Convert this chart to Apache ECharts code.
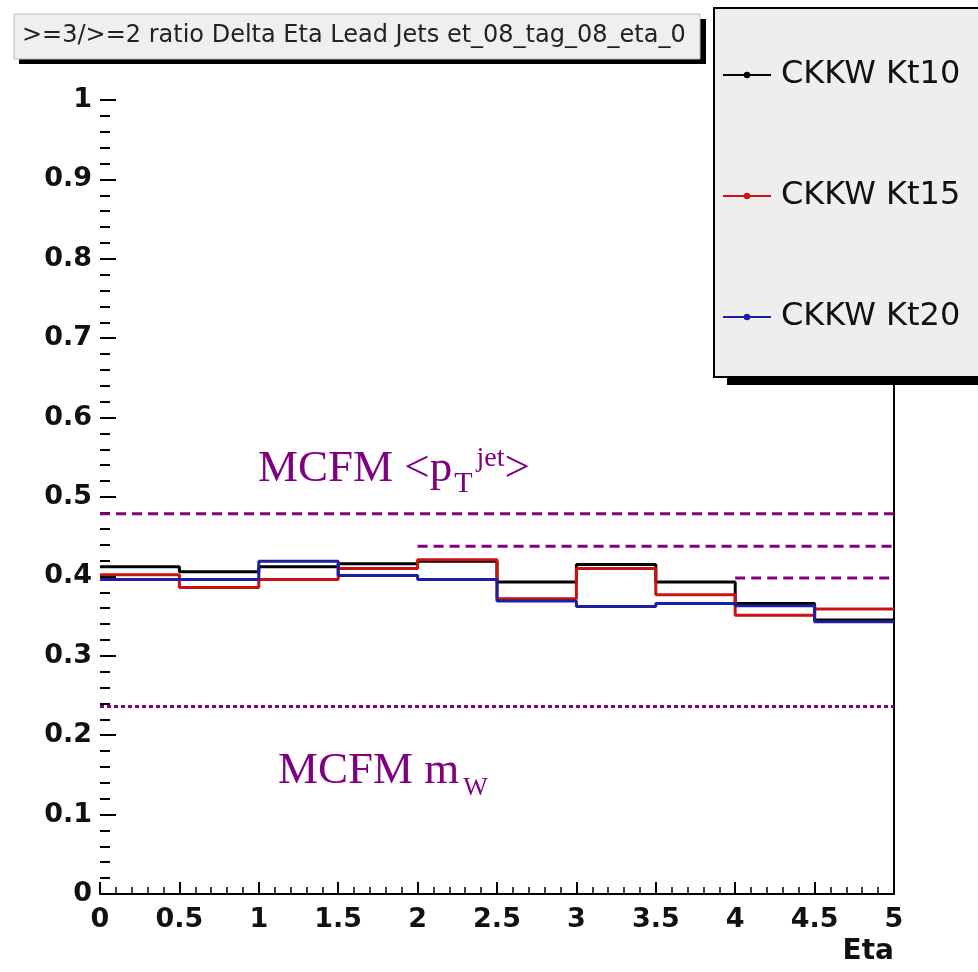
<!DOCTYPE html>
<html>
<head>
<meta charset="utf-8">
<script src="https://cdn.jsdelivr.net/npm/echarts@6/dist/echarts.min.js"></script>
<style>
  html, body { margin: 0; padding: 0; background: #fff; }
  #chart { width: 978px; height: 972px; }
</style>
</head>
<body>
<div id="chart"></div>
<script>
// bin edges of the Eta histogram (10 bins of 0.5)
const binEdges = [0, 0.5, 1, 1.5, 2, 2.5, 3, 3.5, 4, 4.5, 5];
const kt10 = [0.412, 0.406, 0.412, 0.416, 0.419, 0.393, 0.415, 0.393, 0.366, 0.345];
const kt15 = [0.402, 0.386, 0.396, 0.410, 0.421, 0.372, 0.410, 0.377, 0.351, 0.359];
const kt20 = [0.396, 0.396, 0.419, 0.401, 0.396, 0.369, 0.362, 0.366, 0.363, 0.343];

// MCFM reference levels (dashed: <pT jet>, dotted: mW)
const ptLevels = [0.479, 0.438, 0.398];
const ptFrom = [0, 2, 4];
const mwLevel = 0.236;
const etaMax = 5;

const seriesNames = ["CKKW Kt10", "CKKW Kt15", "CKKW Kt20"];
const seriesColors = ["#000000", "#cc1111", "#1e1ea0"];

const purple = "#800080";

// histogram as step line: one point per lower bin edge + final edge
function histData(vals) {
  return binEdges.map((x, i) => [x, vals[Math.min(i, vals.length - 1)]]);
}

const histSeries = [kt10, kt15, kt20].map((vals, i) => ({
  name: seriesNames[i],
  type: "line",
  step: "end",
  data: histData(vals),
  symbol: "circle",
  symbolSize: 6,
  showSymbol: false,
  itemStyle: { color: seriesColors[i] },
  lineStyle: { color: seriesColors[i], width: 3 },
  animation: false,
  z: 3 + i,
}));

const ptSeries = ptLevels.map((lvl, i) => ({
  name: "MCFM pT " + i,
  type: "line",
  data: [[ptFrom[i], lvl], [etaMax, lvl]],
  symbol: "none",
  lineStyle: { color: purple, width: 3, type: [10, 6] },
  animation: false,
  z: 2,
}));

const mwSeries = {
  name: "MCFM mW",
  type: "line",
  data: [[0, mwLevel], [etaMax, mwLevel]],
  symbol: "none",
  lineStyle: { color: purple, width: 3, type: [4, 3] },
  animation: false,
  z: 2,
};

var myChart = echarts.init(document.getElementById("chart"));

var labelFont = {
  fontFamily: "DejaVu Sans",
  fontWeight: "bold",
  fontSize: 27,
  color: "#111",
};

var option = {
  backgroundColor: "#fff",
  animation: false,
  grid: { left: 100, right: 84, top: 100, bottom: 78 },
  xAxis: {
    type: "value",
    min: 0,
    max: 5,
    interval: 0.5,
    axisLine: { lineStyle: { color: "#000", width: 2 } },
    axisTick: { inside: true, length: 12, lineStyle: { color: "#000", width: 2 } },
    minorTick: { show: true, splitNumber: 5, length: 7, lineStyle: { color: "#000", width: 1.5 } },
    splitLine: { show: false },
    axisLabel: Object.assign({ margin: 12 }, labelFont),
  },
  yAxis: [
    {
      type: "value",
      min: 0,
      max: 1,
      interval: 0.1,
      axisLine: { show: false },
      axisTick: { inside: true, length: 16, lineStyle: { color: "#000", width: 2 } },
      minorTick: { show: true, splitNumber: 5, length: 10, lineStyle: { color: "#000", width: 2 } },
      splitLine: { show: false },
      axisLabel: Object.assign({ margin: 8 }, labelFont),
    },
    {
      type: "value",
      position: "right",
      min: 0,
      max: 1,
      axisLine: { show: true, lineStyle: { color: "#000", width: 2 } },
      axisTick: { show: false },
      axisLabel: { show: false },
      splitLine: { show: false },
    },
  ],
  legend: {
    data: seriesNames,
    orient: "vertical",
    left: 717,
    top: 52,
    itemWidth: 48,
    itemHeight: 8,
    itemGap: 85,
    selectedMode: false,
    textStyle: {
      fontFamily: "DejaVu Sans",
      fontSize: 32,
      lineHeight: 36,
      color: "#111",
      padding: [0, 0, 0, 5],
    },
    z: 10,
  },
  graphic: [
    // title box with ROOT-like shadow
    { type: "rect", shape: { x: 19, y: 19, width: 687, height: 45 }, style: { fill: "#000" }, z: 8 },
    { type: "rect", shape: { x: 14, y: 14, width: 686, height: 45 }, style: { fill: "#efefef", stroke: "#bbb", lineWidth: 1 }, z: 9 },
    {
      type: "text",
      left: 22,
      top: 24,
      style: {
        text: ">=3/>=2 ratio Delta Eta Lead Jets et_08_tag_08_eta_0",
        fontFamily: "DejaVu Sans",
        fontSize: 24,
        fill: "#222",
      },
      z: 10,
    },
    // legend box with shadow
    { type: "rect", shape: { x: 727, y: 20, width: 260, height: 365 }, style: { fill: "#000" }, z: 8 },
    { type: "rect", shape: { x: 714, y: 8, width: 270, height: 369 }, style: { fill: "#eeeeee", stroke: "#000", lineWidth: 2 }, z: 9 },
    // MCFM annotations
    {
      type: "text",
      left: 258,
      top: 439,
      style: {
        text: "{a|MCFM <p}{b|T}{c|jet}{a|>}",
        rich: {
          a: { fontFamily: "Liberation Serif", fontSize: 45, lineHeight: 60, verticalAlign: "middle", fill: purple },
          b: { fontFamily: "Liberation Serif", fontSize: 30, lineHeight: 30, verticalAlign: "bottom", padding: [0, 4, 0, 2], fill: purple },
          c: { fontFamily: "Liberation Serif", fontSize: 28, lineHeight: 28, verticalAlign: "top", padding: [6, 0, 0, 0], fill: purple },
        },
      },
      z: 10,
    },
    {
      type: "text",
      left: 278,
      top: 749,
      style: {
        text: "{a|MCFM m}{b|W}",
        rich: {
          a: { fontFamily: "Liberation Serif", fontSize: 45, lineHeight: 60, verticalAlign: "middle", fill: purple },
          b: { fontFamily: "Liberation Serif", fontSize: 26, lineHeight: 26, verticalAlign: "bottom", padding: [0, 0, 0, 4], fill: purple },
        },
      },
      z: 10,
    },
    // x axis title
    {
      type: "text",
      right: 84,
      top: 938,
      style: {
        text: "Eta",
        fontFamily: "DejaVu Sans",
        fontWeight: "bold",
        fontSize: 28,
        fill: "#111",
      },
      z: 10,
    },
  ],
  series: [mwSeries].concat(ptSeries, histSeries),
};

myChart.setOption(option);
</script>
</body>
</html>
